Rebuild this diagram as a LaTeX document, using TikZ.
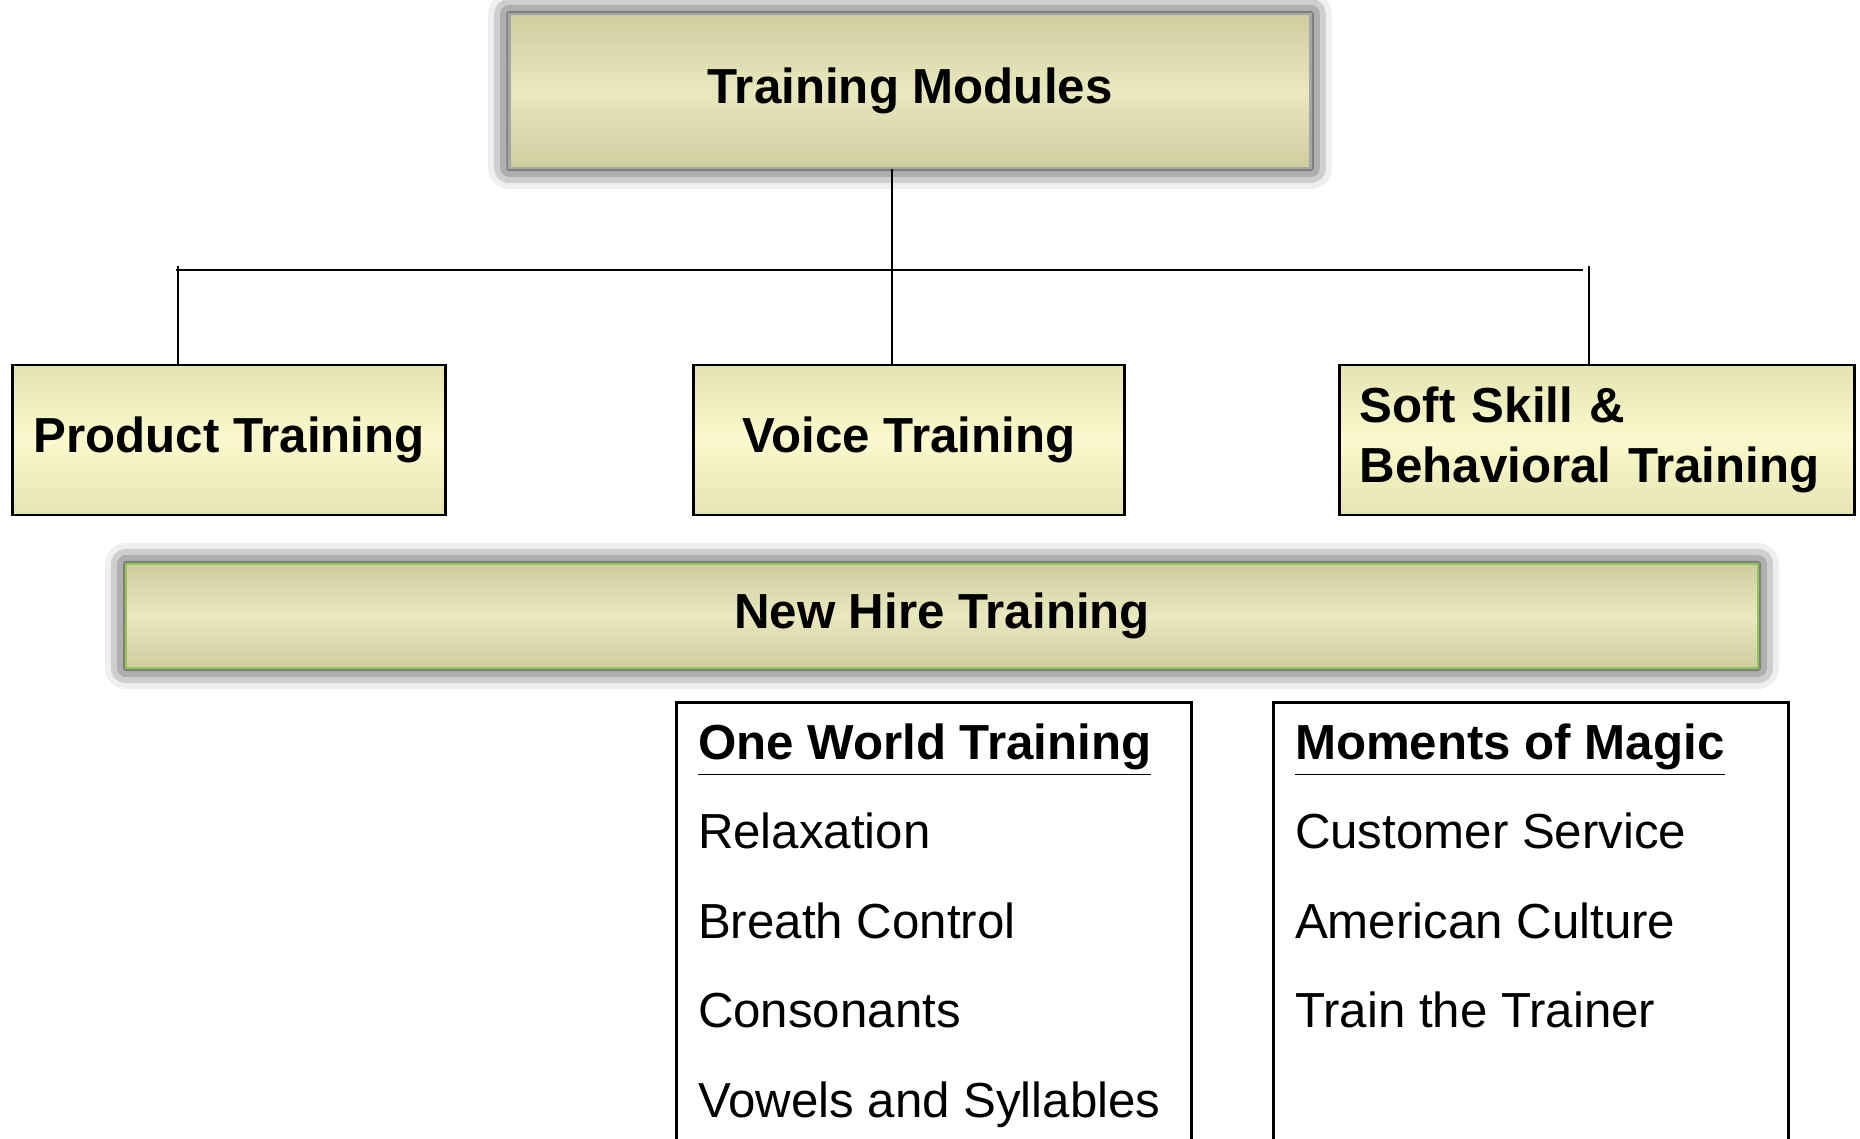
\documentclass[tikz,border=0pt]{standalone}
\usepackage{fontspec}
\usepackage{xcolor}
\setmainfont{Liberation Sans}
\usetikzlibrary{positioning,shadows.blur}

\definecolor{modedge}{RGB}{206,205,160}
\definecolor{modmid}{RGB}{233,232,190}
\definecolor{subedge}{RGB}{228,227,178}
\definecolor{submid}{RGB}{251,250,206}
\definecolor{hireline}{RGB}{146,196,86}

\tikzset{
  txt/.style={font=\fontsize{14}{17}\selectfont},
  bold/.style={font=\fontsize{14}{17}\selectfont\bfseries},
  subbox/.style={draw=black, line width=0.8pt, inner sep=0pt, bold,
    top color=subedge, bottom color=subedge, middle color=submid,
    minimum height=1.5cm},
  glowbox/.style={draw=gray!70, line width=0.8pt, inner sep=0pt, bold,
    top color=modedge, bottom color=modedge, middle color=modmid,
    blur shadow={shadow xshift=0pt, shadow yshift=0pt, shadow scale=1,
      shadow blur radius=6pt, shadow opacity=100}},
  listbox/.style={draw=black, line width=0.8pt, minimum width=5.14cm,
    minimum height=4.8cm, anchor=north, inner sep=0pt},
  item/.style={txt, anchor=base west, inner sep=0pt},
  head/.style={bold, anchor=base west, inner sep=0pt},
}

\begin{document}
\begin{tikzpicture}[x=0.01cm, y=-0.01cm, line width=0.6pt]
    \clip (0,0) rectangle (1860,1138);

    % top of the tree
    \node[glowbox, minimum width=8.01cm, minimum height=1.54cm] (mods) at (910,91) {Training Modules};

    \node[subbox, minimum width=4.32cm] (prod) at (229,440) {Product Training};
    \node[subbox, minimum width=4.30cm] (voice) at (909,440) {Voice Training};
    \node[subbox, minimum width=5.14cm, text width=4.74cm, align=left] (soft) at (1597,440)
        {Soft Skill \&\\Behavioral Training};

    \node[glowbox, draw=hireline, minimum width=16.31cm, minimum height=1.04cm] (hire) at (942,616)
        {New Hire Training};

    % connectors
    \coordinate (stem) at (892,270);
    \coordinate (busL) at (176,270);
    \coordinate (busR) at (1583,270);
    \coordinate (tickL) at (178,266);
    \coordinate (tickR) at (1589,266);
    \draw (stem |- mods.south) -- (stem |- voice.north);
    \draw (busL) -- (busR);
    \draw (tickL) -- (tickL |- prod.north);
    \draw (tickR) -- (tickR |- soft.north);

    % course lists
    \node[listbox] (owbox) at (934,701) {};
    \node[head] (ow0) at (697,759) {\underline{One World Training}};
    \node[item] (ow1) at (697,848) {Relaxation};
    \node[item] (ow2) at (697,938) {Breath Control};
    \node[item] (ow3) at (697,1027) {Consonants};
    \node[item] (ow4) at (697,1117) {Vowels and Syllables};

    \node[listbox] (mmbox) at (1531,701) {};
    \node[head] (mm0) at (1294,759) {\underline{Moments of Magic}};
    \node[item] (mm1) at (1294,848) {Customer Service};
    \node[item] (mm2) at (1294,938) {American Culture};
    \node[item] (mm3) at (1294,1027) {Train the Trainer};
\end{tikzpicture}
\end{document}
